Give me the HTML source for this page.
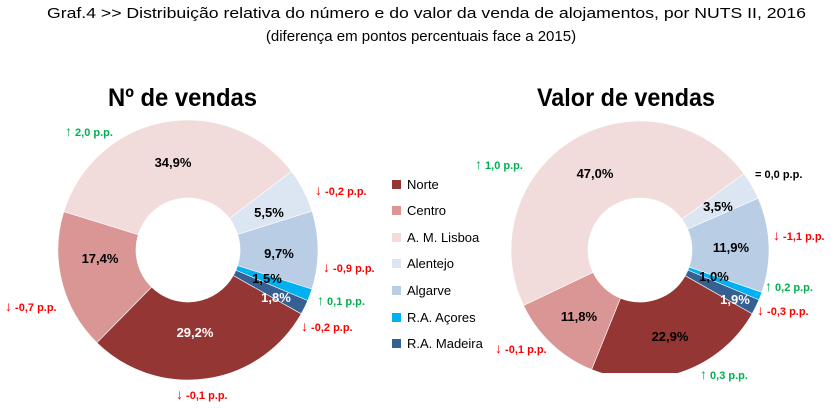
<!DOCTYPE html>
<html><head><meta charset="utf-8"><style>
html,body{margin:0;padding:0;background:#fff;width:839px;height:409px;overflow:hidden}
svg{display:block;font-family:"Liberation Sans",sans-serif}
.l{font-size:13px;font-weight:bold;text-anchor:middle}
.a{font-size:11px;font-weight:bold}
.ar{font-size:14px}
.g{fill:#00b050}.r{fill:#ff0000}
.lg{font-size:13px;fill:#000}
</style></head><body>
<svg id="s" width="839" height="409" viewBox="0 0 839 409">
<defs><clipPath id="cp"><rect x="0" y="0" width="839" height="373"/></clipPath></defs>
<text x="47" y="18" font-size="15" textLength="759" lengthAdjust="spacingAndGlyphs">Graf.4  &gt;&gt;  Distribuição relativa do número e do valor da venda de alojamentos, por NUTS II, 2016</text>
<text x="421" y="41" font-size="15" text-anchor="middle">(diferença em pontos percentuais face a 2015)</text>
<text x="108" y="106" font-size="25" font-weight="bold" textLength="149" lengthAdjust="spacingAndGlyphs">Nº de vendas</text>
<text x="537" y="106" font-size="25" font-weight="bold" textLength="178" lengthAdjust="spacingAndGlyphs">Valor de vendas</text>
<g id="d1"></g>
<g id="d2" clip-path="url(#cp)"></g>
<rect x="392" y="180" width="9" height="9" fill="#943634"/><text class="lg" x="407" y="189">Norte</text>
<rect x="392" y="206" width="9" height="9" fill="#d99694"/><text class="lg" x="407" y="215">Centro</text>
<rect x="392" y="233" width="9" height="9" fill="#f2dcdb"/><text class="lg" x="407" y="242">A. M. Lisboa</text>
<rect x="392" y="259" width="9" height="9" fill="#dce6f2"/><text class="lg" x="407" y="268">Alentejo</text>
<rect x="392" y="286" width="9" height="9" fill="#b9cde5"/><text class="lg" x="407" y="295">Algarve</text>
<rect x="392" y="313" width="9" height="9" fill="#00b0f0"/><text class="lg" x="407" y="322">R.A. Açores</text>
<rect x="392" y="339" width="9" height="9" fill="#376092"/><text class="lg" x="407" y="348">R.A. Madeira</text>
<text class="l" x="173" y="167">34,9%</text>
<text class="l" x="269" y="217">5,5%</text>
<text class="l" x="279" y="258">9,7%</text>
<text class="l" x="100" y="263">17,4%</text>
<text class="l" x="267" y="283">1,5%</text>
<text class="l" x="276" y="302" fill="#fff">1,8%</text>
<text class="l" x="195" y="337" fill="#fff">29,2%</text>
<text class="a g" x="65" y="136"><tspan class="ar">↑</tspan> 2,0 p.p.</text>
<text class="a r" x="315" y="195"><tspan class="ar">↓</tspan> -0,2 p.p.</text>
<text class="a r" x="323" y="272"><tspan class="ar">↓</tspan> -0,9 p.p.</text>
<text class="a g" x="317" y="305"><tspan class="ar">↑</tspan> 0,1 p.p.</text>
<text class="a r" x="301" y="331"><tspan class="ar">↓</tspan> -0,2 p.p.</text>
<text class="a r" x="5" y="311"><tspan class="ar">↓</tspan> -0,7 p.p.</text>
<text class="a r" x="176" y="399"><tspan class="ar">↓</tspan> -0,1 p.p.</text>
<text class="l" x="595" y="178">47,0%</text>
<text class="l" x="718" y="211">3,5%</text>
<text class="l" x="731" y="252">11,9%</text>
<text class="l" x="714" y="281">1,0%</text>
<text class="l" x="735" y="304" fill="#fff">1,9%</text>
<text class="l" x="579" y="321">11,8%</text>
<text class="l" x="670" y="341">22,9%</text>
<text class="a g" x="475" y="169"><tspan class="ar">↑</tspan> 1,0 p.p.</text>
<text class="a" x="755" y="178">= 0,0 p.p.</text>
<text class="a r" x="773" y="240"><tspan class="ar">↓</tspan> -1,1 p.p.</text>
<text class="a g" x="765" y="291"><tspan class="ar">↑</tspan> 0,2 p.p.</text>
<text class="a r" x="757" y="315"><tspan class="ar">↓</tspan> -0,3 p.p.</text>
<text class="a r" x="495" y="353"><tspan class="ar">↓</tspan> -0,1 p.p.</text>
<text class="a g" x="700" y="379"><tspan class="ar">↑</tspan> 0,3 p.p.</text>
</svg>
<script>
var cols=["#943634","#d99694","#f2dcdb","#dce6f2","#b9cde5","#00b0f0","#376092"];
function donut(id,cx,cy,R,r,vals,start){
 var g=document.getElementById(id),a=start,h="";
 function p(ang,rad){var t=ang*Math.PI/180;return [(cx+rad*Math.sin(t)).toFixed(2),(cy-rad*Math.cos(t)).toFixed(2)];}
 var tot=vals.reduce(function(s,v){return s+v},0);
 vals.forEach(function(v,i){
  var sw=v/tot*360,b=a+sw,lg=sw>180?1:0;
  var p1=p(a,R),p2=p(b,R),p3=p(b,r),p4=p(a,r);
  h+='<path d="M'+p1+' A'+R+' '+R+' 0 '+lg+' 1 '+p2+' L'+p3+' A'+r+' '+r+' 0 '+lg+' 0 '+p4+'Z" fill="'+cols[i]+'" stroke="#fff" stroke-width="0.6"/>';
  a=b;
 });
 g.innerHTML=h;
}
donut("d1",188,250,130,52,[29.2,17.4,34.9,5.5,9.7,1.5,1.8],119.4);
donut("d2",640,250,129,52,[22.9,11.8,47.0,3.5,11.9,1.0,1.9],119.6);
</script>
</body></html>
